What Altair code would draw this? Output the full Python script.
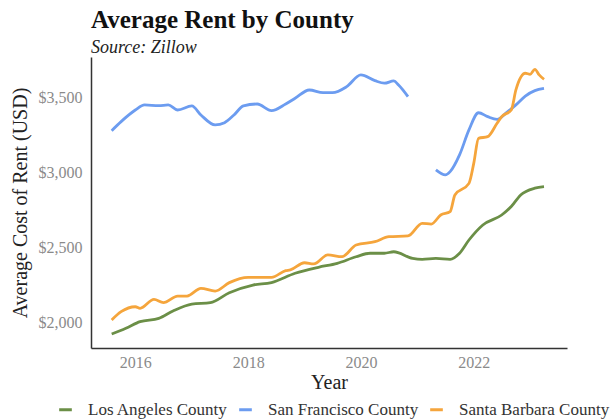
import altair as alt
import pandas as pd

counties = ["Los Angeles County", "San Francisco County", "Santa Barbara County"]
colors = ["#6b8f47", "#6c9cf0", "#f5a53c"]

la_dates = ["2015-08", "2015-11", "2016-02", "2016-06", "2016-09", "2017-01", "2017-05", "2017-09",
            "2018-02", "2018-06", "2018-11", "2019-04", "2019-08", "2019-12", "2020-03", "2020-06",
            "2020-08", "2020-12", "2021-02", "2021-05", "2021-08", "2021-10", "2021-12", "2022-03",
            "2022-07", "2022-09", "2022-11", "2023-02", "2023-04"]
la_vals = [1927, 1965, 2009, 2031, 2080, 2126, 2135, 2201, 2252, 2268, 2330, 2370, 2396, 2440, 2463,
           2463, 2473, 2429, 2423, 2429, 2423, 2463, 2551, 2651, 2717, 2773, 2850, 2895, 2905]

sf_dates1 = ["2015-08", "2015-10", "2016-01", "2016-03", "2016-06", "2016-08", "2016-10", "2017-01",
             "2017-03", "2017-06", "2017-08", "2017-10", "2017-12", "2018-03", "2018-06", "2018-09",
             "2018-11", "2019-02", "2019-05", "2019-07", "2019-10", "2020-01", "2020-04", "2020-06",
             "2020-08", "2020-09", "2020-11"]
sf_vals1 = [3277, 3337, 3414, 3448, 3443, 3448, 3414, 3441, 3381, 3315, 3330, 3381, 3441, 3454, 3410,
            3454, 3492, 3547, 3529, 3529, 3569, 3647, 3609, 3592, 3607, 3580, 3503]

sf_dates2 = ["2021-05", "2021-07", "2021-08", "2021-10", "2021-12", "2022-02", "2022-04", "2022-06",
             "2022-08", "2022-10", "2022-12", "2023-02", "2023-04"]
sf_vals2 = [3016, 2983, 3005, 3116, 3282, 3396, 3370, 3352, 3396, 3448, 3507, 3543, 3558]

sb_dates = ["2015-08", "2015-10", "2016-01", "2016-02", "2016-05", "2016-07", "2016-10", "2016-12",
            "2017-03", "2017-06", "2017-09", "2018-01", "2018-06", "2018-09", "2018-10", "2019-01",
            "2019-03", "2019-06", "2019-09", "2019-12", "2020-04", "2020-07", "2020-11", "2021-02",
            "2021-04", "2021-06", "2021-08", "2021-09", "2021-12", "2022-01", "2022-02", "2022-04",
            "2022-06", "2022-07", "2022-09", "2022-10", "2022-12", "2023-01", "2023-02", "2023-03",
            "2023-04"]
sb_vals = [2020, 2075, 2108, 2097, 2157, 2135, 2179, 2179, 2230, 2212, 2268, 2303, 2303, 2347, 2352,
           2400, 2392, 2452, 2440, 2518, 2540, 2573, 2578, 2662, 2657, 2717, 2739, 2850, 2927, 3060,
           3226, 3237, 3326, 3370, 3414, 3547, 3658, 3651, 3684, 3647, 3618]

tick_years = [2016, 2018, 2020, 2022]
y_ticks = [2000, 2500, 3000, 3500]

rows = []
for dates, vals, county, seg in [
    (la_dates, la_vals, counties[0], "la"),
    (sf_dates1, sf_vals1, counties[1], "sf1"),
    (sf_dates2, sf_vals2, counties[1], "sf2"),
    (sb_dates, sb_vals, counties[2], "sb"),
]:
    for d, v in zip(dates, vals):
        rows.append({"date": d + "-01", "value": v, "county": county, "seg": seg})
df = pd.DataFrame(rows)

FONT = "Liberation Serif"

chart = alt.Chart(df).mark_line(strokeWidth=2.8, interpolate="monotone").encode(
    x=alt.X(
        "date:T",
        title="Year",
        scale=alt.Scale(domain=[alt.DateTime(year=2015, month=3, date=20),
                                alt.DateTime(year=2023, month=8, date=28)]),
        axis=alt.Axis(values=[alt.DateTime(year=y) for y in tick_years], format="%Y",
                      labelPadding=6, titlePadding=2),
    ),
    y=alt.Y(
        "value:Q",
        title="Average Cost of Rent (USD)",
        scale=alt.Scale(domain=[1834, 3766], nice=False, zero=False),
        axis=alt.Axis(values=y_ticks, format="$,.0f", labelPadding=9, titlePadding=8),
    ),
    color=alt.Color(
        "county:N",
        scale=alt.Scale(domain=counties, range=colors),
        legend=alt.Legend(
            title=None, orient="none", direction="horizontal",
            legendX=-34, legendY=344, padding=0,
            symbolType="stroke", symbolStrokeWidth=3, symbolSize=160,
            labelFont=FONT, labelFontSize=17, labelColor="#333333",
            labelOffset=14, columnPadding=5,
        ),
    ),
    detail="seg:N",
).properties(
    width=476,
    height=291,
    autosize="none",
    padding={"left": 91, "top": 57, "right": 43, "bottom": 71},
    title=alt.TitleParams(
        text="Average Rent by County",
        subtitle="Source: Zillow",
        anchor="start",
        frame="group",
        font=FONT,
        fontSize=25,
        fontWeight="bold",
        color="#111111",
        subtitleFont=FONT,
        subtitleFontSize=18,
        subtitleFontStyle="italic",
        subtitleColor="#222222",
        subtitlePadding=6,
        offset=0,
    ),
).configure_view(stroke=None).configure_axis(
    grid=False,
    ticks=False,
    domainColor="#333333",
    domainWidth=1.5,
    labelFont=FONT,
    labelFontSize=16,
    labelColor="#8a8a8a",
    titleFont=FONT,
    titleFontSize=20,
    titleFontWeight="normal",
    titleColor="#222222",
)

chart.save("out.html", embed_options={"renderer": "svg", "actions": False})
